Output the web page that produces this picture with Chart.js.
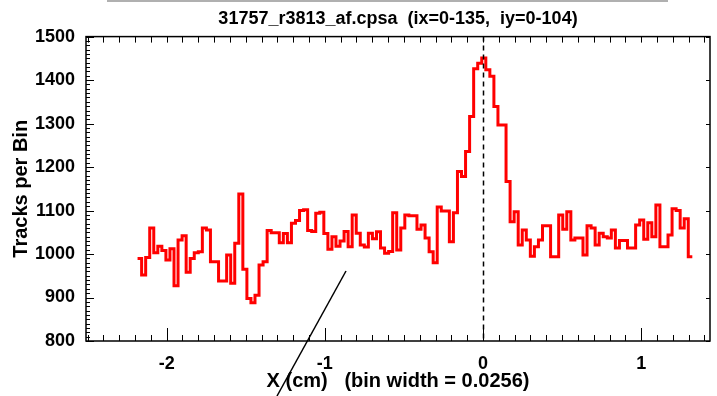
<!DOCTYPE html>
<html>
<head>
<meta charset="utf-8">
<script src="https://cdn.jsdelivr.net/npm/chart.js@4.4.1/dist/chart.umd.min.js"></script>
<style>
html,body{margin:0;padding:0;background:#fff;}
canvas{display:block;}
</style>
</head>
<body>
<canvas id="c" width="717" height="396"></canvas>
<script>
// ---- data ----
const titleText = "31757_r3813_af.cpsa  (ix=0-135,  iy=0-104)";
const xTitle = "X (cm)   (bin width = 0.0256)";
const yTitle = "Tracks per Bin";
const binStart = -2.184;
const binWidth = 0.0256;
const tracks = [
 990, 952, 992, 1060, 1003, 1018, 1008, 986, 1012, 927,
 1032, 1042, 958, 990, 1003, 1005, 1060, 1055, 982, 982,
 938, 938, 998, 933, 1025, 1138, 965, 898, 888, 905,
 975, 982, 1054, 1049, 1049, 1026, 1047, 1026, 1071, 1077,
 1100, 1102, 1054, 1052, 1094, 1096, 1047, 1011, 1040, 1018,
 1030, 1052, 1017, 1090, 1048, 1021, 1016, 1048, 1035, 1051,
 1014, 1002, 1006, 1095, 1009, 1060, 1090, 1088, 1088, 1057,
 1067, 1037, 1005, 980, 1108, 1099, 1099, 1028, 1095, 1190,
 1178, 1236, 1316, 1426, 1439, 1451, 1424, 1409, 1339, 1297,
 1297, 1167, 1074, 1097, 1021, 1055, 1032, 995, 1017, 1032,
 1065, 1065, 994, 994, 1090, 1057, 1097, 1032, 1037, 1037,
 998, 1065, 1060, 1021, 1048, 1040, 1037, 1055, 1014, 1031,
 1031, 1014, 1014, 1067, 1078, 1034, 1072, 1040, 1113, 1017,
 1017, 1044, 1104, 1100, 1060, 1081, 994
];
const xTicks = [-2, -1, 0, 1];
const yTicks = [800, 900, 1000, 1100, 1200, 1300, 1400, 1500];
const xRange = [-2.51, 1.435];
const yRange = [800, 1500];

// ---- build ----
const points = tracks.map((v, i) => ({x: binStart + i * binWidth, y: v}));
points.push({x: binStart + tracks.length * binWidth, y: tracks[tracks.length - 1]});

const FONT = "'Liberation Sans', Arial, Helvetica, sans-serif";

const decor = {
  id: 'decor',
  beforeDraw(chart) {
    const c = chart.ctx;
    c.save();
    c.strokeStyle = '#b0b0b0';
    c.lineWidth = 2;
    c.beginPath(); c.moveTo(107, 1); c.lineTo(668, 1); c.stroke();
    c.restore();
  },
  afterDatasetsDraw(chart) {
    const c = chart.ctx, a = chart.chartArea;
    const xs = chart.scales.x, ys = chart.scales.y;
    c.save();
    c.strokeStyle = '#000'; c.lineWidth = 1.5; c.setLineDash([5, 4]);
    const x0 = Math.round(xs.getPixelForValue(0)) + 0.5;
    c.beginPath(); c.moveTo(x0, a.top); c.lineTo(x0, a.bottom); c.stroke();
    c.setLineDash([]);
    c.lineWidth = 1.5;
    c.strokeRect(a.left, a.top, a.right - a.left, a.bottom - a.top);
    c.lineWidth = 1;
    for (let k = Math.ceil(xRange[0] * 10); k <= Math.floor(xRange[1] * 10); k++) {
      const px = Math.round(xs.getPixelForValue(k / 10)) + 0.5;
      const major = k % 10 === 0;
      const len = major ? 13 : 6;
      c.beginPath(); c.moveTo(px, a.bottom); c.lineTo(px, a.bottom - len); c.stroke();
      c.beginPath(); c.moveTo(px, a.top); c.lineTo(px, a.top + 6); c.stroke();
    }
    for (let v = yRange[0]; v <= yRange[1]; v += 10) {
      const py = Math.round(ys.getPixelForValue(v)) + 0.5;
      const major = v % 100 === 0;
      const len = major ? 8 : 4;
      c.beginPath(); c.moveTo(a.left, py); c.lineTo(a.left + len, py); c.stroke();
      if (major) { c.beginPath(); c.moveTo(a.right, py); c.lineTo(a.right - 4, py); c.stroke(); }
    }
    c.restore();
  },
  afterDraw(chart) {
    const c = chart.ctx;
    c.save();
    c.strokeStyle = '#000'; c.lineWidth = 1.5;
    c.beginPath(); c.moveTo(346, 271); c.lineTo(277, 396); c.stroke();
    c.restore();
  }
};

new Chart(document.getElementById('c'), {
  type: 'line',
  data: { datasets: [{
    data: points,
    stepped: true,
    borderColor: '#ff0000',
    borderWidth: 3,
    pointRadius: 0,
    fill: false,
    borderJoinStyle: 'miter',
    borderCapStyle: 'butt'
  }]},
  options: {
    responsive: false,
    animation: false,
    events: [],
    layout: { padding: { left: 0, right: 7, top: 0, bottom: 0 } },
    plugins: {
      legend: { display: false },
      tooltip: { enabled: false },
      title: {
        display: true, text: titleText, color: '#000', fullSize: false,
        font: { family: FONT, size: 18, weight: 'bold' },
        padding: { top: 8, bottom: 7 }
      }
    },
    scales: {
      x: {
        type: 'linear', min: xRange[0], max: xRange[1],
        afterBuildTicks: s => { s.ticks = xTicks.map(v => ({value: v})); },
        afterFit: s => { s.height = 55; },
        grid: { display: false, drawTicks: false },
        border: { display: false },
        ticks: { color: '#000', font: { family: FONT, size: 18, weight: 'bold' }, padding: 12, maxRotation: 0,
                 callback: v => String(v) },
        title: { display: true, text: xTitle, color: '#000', font: { family: FONT, size: 20, weight: 'bold' }, padding: { top: 0, bottom: 3 } }
      },
      y: {
        type: 'linear', min: yRange[0], max: yRange[1],
        afterBuildTicks: s => { s.ticks = yTicks.map(v => ({value: v})); },
        afterFit: s => { s.width = 86; },
        grid: { display: false, drawTicks: false },
        border: { display: false },
        ticks: { color: '#000', font: { family: FONT, size: 18, weight: 'bold' }, padding: 11,
                 callback: v => String(v) },
        title: { display: true, text: yTitle, color: '#000', font: { family: FONT, size: 20, weight: 'bold' }, padding: { top: 9, bottom: 0 } }
      }
    }
  },
  plugins: [decor]
});
</script>
</body>
</html>
